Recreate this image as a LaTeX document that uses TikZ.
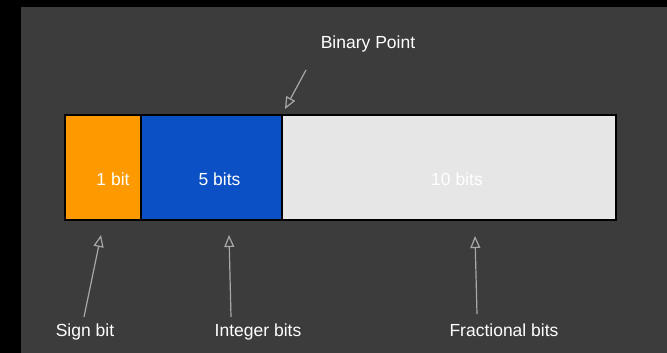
\documentclass[tikz,border=0pt]{standalone}
\usepackage{fontspec}
\setmainfont{Liberation Sans}
\usetikzlibrary{arrows.meta}
\definecolor{frameblack}{HTML}{000000}
\definecolor{panel}{HTML}{3C3C3C}
\definecolor{signorange}{HTML}{FF9900}
\definecolor{intblue}{HTML}{0B50C4}
\definecolor{fracgray}{HTML}{E6E6E6}
\definecolor{pointer}{HTML}{A8A8A8}
\begin{document}
\begin{tikzpicture}[x=1pt,y=-1pt,
  field/.style={draw=black,line width=1.6pt,minimum height=105pt,inner sep=0pt},
  lbl/.style={text=white,font=\fontsize{17.5}{20}\selectfont,inner sep=0pt,anchor=base},
  pointerline/.style={draw=pointer,line width=1.2pt,-{Triangle[open,length=12pt,width=10pt,line width=1.2pt]}}]
  % frame and panel
  \fill[frameblack] (0,0) rectangle (667,353);
  \fill[panel] (21,7) rectangle (667,353);
  \useasboundingbox (0,0) rectangle (667,353);

  % the three fields of the word
  \node[field,fill=signorange,minimum width=75.7pt] (sign) at (102.85,167.5) {};
  \node[field,fill=intblue,minimum width=141pt] (int) at (211.2,167.5) {};
  \node[field,fill=fracgray,minimum width=334.3pt] (frac) at (448.85,167.5) {};

  % field widths
  \node[lbl] (signw) at (113,185) {1 bit};
  \node[lbl] (intw) at (219.5,185) {5 bits};
  \node[lbl] (fracw) at (457,185) {10 bits};

  % captions
  \node[lbl] (bp) at (368,49) {Binary Point};
  \node[lbl] (signc) at (85,336) {Sign bit};
  \node[lbl] (intc) at (258,336) {Integer bits};
  \node[lbl] (fracc) at (504,336) {Fractional bits};

  % pointer ends
  \coordinate (bpfrom) at (306,70);
  \coordinate (bpto) at (285,109);
  \coordinate (signfrom) at (84,317);
  \coordinate (signto) at (101,235);
  \coordinate (intfrom) at (231,317);
  \coordinate (intto) at (229,235);
  \coordinate (fracfrom) at (477,314);
  \coordinate (fracto) at (475,236);

  \draw[pointerline] (bpfrom) -- (bpto);
  \draw[pointerline] (signfrom) -- (signto);
  \draw[pointerline] (intfrom) -- (intto);
  \draw[pointerline] (fracfrom) -- (fracto);
\end{tikzpicture}
\end{document}
